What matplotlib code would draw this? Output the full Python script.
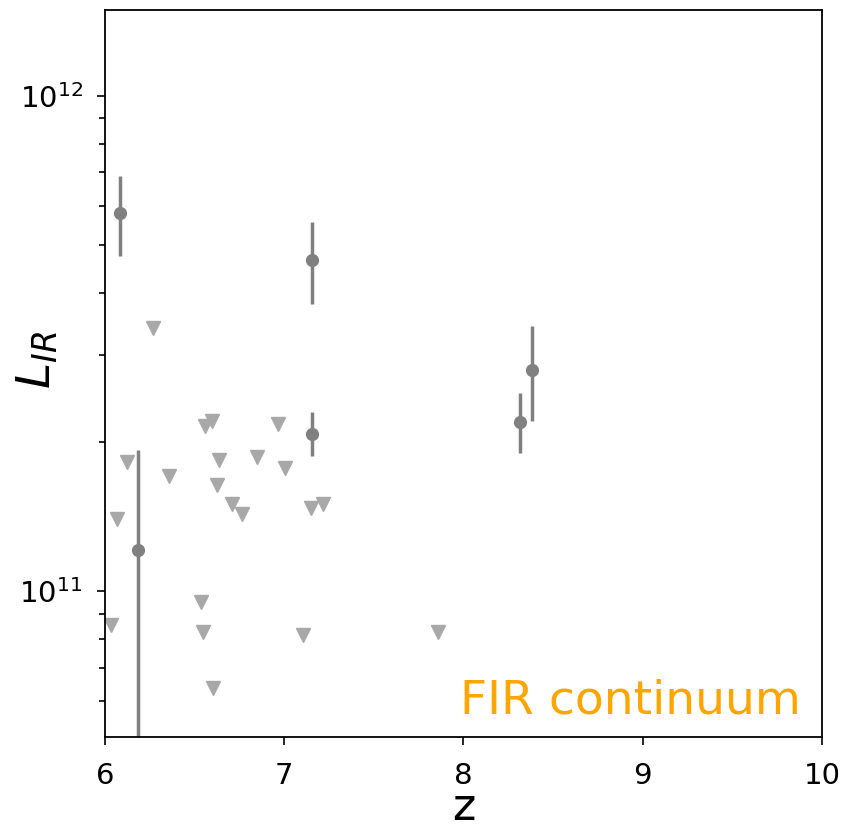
import matplotlib
matplotlib.use("Agg")
from matplotlib import pyplot as plt
import numpy as np

# detections (z, L_IR, lower err, upper err)
det_z = [6.084, 7.155, 7.155, 8.315, 8.382, 6.184]
det_L = [5.81e11, 4.67e11, 2.07e11, 2.19e11, 2.79e11, 1.21e11]
det_lo = [1.06e11, 0.87e11, 0.20e11, 0.29e11, 0.59e11, 1.15e11]
det_hi = [1.08e11, 0.89e11, 0.23e11, 0.32e11, 0.64e11, 0.72e11]

# upper limits
lim_z = [6.032, 6.121, 6.069, 6.269, 6.357, 6.536, 6.548, 6.558, 6.595, 6.604,
         6.623, 6.638, 6.707, 6.763, 6.850, 6.963, 7.006, 7.106, 7.149, 7.218,
         7.856]
lim_L = [8.53e10, 1.82e11, 1.40e11, 3.40e11, 1.71e11, 9.51e10, 8.28e10, 2.15e11,
         2.20e11, 6.38e10, 1.64e11, 1.84e11, 1.50e11, 1.43e11, 1.86e11, 2.17e11,
         1.77e11, 8.15e10, 1.47e11, 1.50e11, 8.28e10]

fig = plt.figure(figsize=(8.46, 8.26), dpi=100)
ax = fig.add_axes([0.1241, 0.1077, 0.8475, 0.8802])

ax.plot(lim_z, lim_L, 'v', color='#a8a8a8', markersize=10, linestyle='none')
ax.errorbar(det_z, det_L, yerr=[det_lo, det_hi], fmt='o', color='gray',
            ecolor='gray', elinewidth=2.5, markersize=8.5, capsize=0)

ax.set_yscale('log')
ax.set_xlim(6, 10)
ax.set_ylim(5.07e10, 1.49e12)
ax.set_xticks([6, 7, 8, 9, 10])
ax.tick_params(axis='both', which='major', labelsize=21, width=1.2, length=6)
ax.tick_params(axis='x', which='major', pad=12)
ax.tick_params(axis='y', which='major', pad=10)
ax.tick_params(axis='y', which='minor', width=1.2, length=4)
for s in ax.spines.values():
    s.set_linewidth(1.3)

ax.set_xlabel('z', fontsize=32, labelpad=-3)
ax.set_ylabel(r'$L_{IR}$', fontsize=34)
ax.yaxis.set_label_coords(-0.062, 0.518)

ax.text(0.97, 0.018, 'FIR continuum', transform=ax.transAxes, ha='right',
        va='bottom', fontsize=34, color='orange')

plt.savefig("out.png", dpi=100)
